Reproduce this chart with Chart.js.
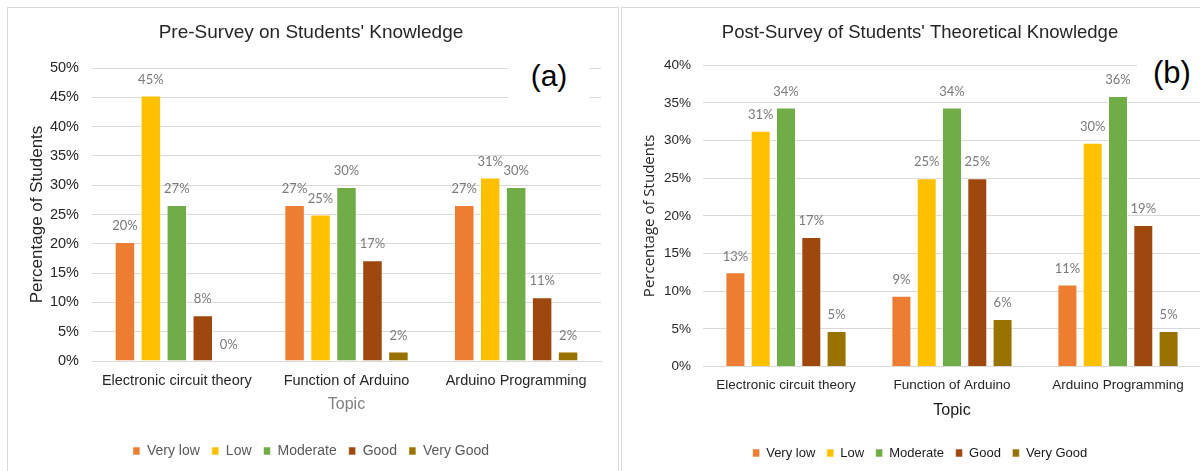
<!DOCTYPE html>
<html>
<head>
<meta charset="utf-8">
<script src="https://cdn.jsdelivr.net/npm/chart.js@4/dist/chart.umd.min.js"></script>
<style>
	html, body { margin: 0; padding: 0; background: #fff; overflow: hidden; width: 1200px; height: 471px; }
	.panel { position: absolute; top: 7px; height: 480px; border: 1px solid #d9d9d9; background: #fff; overflow: hidden; }
	#panelA { left: 7px; width: 610px; }
	#panelB { left: 621px; width: 600px; }
	.panel canvas { position: absolute; left: 0; top: 0; }
	.tag { position: absolute; background: #fff; font-family: "Liberation Sans", Arial, sans-serif; color: #000; text-align: center; }
</style>
</head>
<body>
<div class="panel" id="panelA"><canvas id="chartA" width="610" height="463"></canvas></div>
<div class="panel" id="panelB"><canvas id="chartB" width="590" height="463"></canvas></div>
<div class="tag" style="left:508px; top:54px; width:82px; height:48px; line-height:44px; font-size:30px;">(a)</div>
<div class="tag" style="left:1137px; top:52px; width:70px; height:42px; line-height:42px; font-size:31px;">(b)</div>
<script>
const topics = ["Electronic circuit theory", "Function of Arduino", "Arduino Programming"]
const levels = ["Very low", "Low", "Moderate", "Good", "Very Good"]
const levelColors = ["#ED7D31", "#FFC000", "#70AD47", "#9E480E", "#997300"]

// pre-survey, % of students per level (one value per topic)
const preVeryLow = [20.3, 26.6, 26.6]
const preLow = [45.3, 25.0, 31.3]
const preModerate = [26.6, 29.7, 29.7]
const preGood = [7.8, 17.2, 10.9]
const preVeryGood = [0, 1.6, 1.6]

// post-survey
const postVeryLow = [12.5, 9.4, 10.9]
const postLow = [31.3, 25.0, 29.7]
const postModerate = [34.4, 34.4, 35.9]
const postGood = [17.2, 25.0, 18.8]
const postVeryGood = [4.7, 6.3, 4.7]

const FONT = "'Liberation Sans', Arial, sans-serif"

const valueLabels = {
	id: "valueLabels",
	afterDatasetsDraw(chart) {
		const ctx = chart.ctx
		ctx.save()
		ctx.font = "13px Lato"
		ctx.fillStyle = "#7a7a7a"
		ctx.textAlign = "center"
		ctx.textBaseline = "middle"
		chart.data.datasets.forEach((ds, i) => {
			chart.getDatasetMeta(i).data.forEach((bar, j) => {
				ctx.fillText(Math.round(ds.data[j]) + "%", bar.x, bar.y - 16)
			})
		})
		ctx.restore()
	},
}

function makeChart(canvas, series, s) {
	const datasets = levels.map((name, i) => ({
		label: name,
		data: series[i],
		backgroundColor: levelColors[i],
		borderColor: "rgba(255,255,255,0.55)",
		borderWidth: 1,
		categoryPercentage: s.catPct,
		barPercentage: s.barPct,
	}))
	return new Chart(canvas, {
		type: "bar",
		data: { labels: topics, datasets: datasets },
		plugins: [valueLabels],
		options: {
			responsive: false,
			animation: false,
			devicePixelRatio: 1,
			layout: { padding: s.padding },
			plugins: {
				title: {
					display: true,
					text: s.title,
					color: "#262626",
					font: { family: FONT, size: s.titleSize, weight: "normal" },
					padding: s.titlePad,
				},
				legend: {
					position: "bottom",
					labels: {
						boxWidth: 7,
						boxHeight: 8,
						padding: s.legendPad,
						color: s.legendColor,
						font: { family: FONT, size: s.legendSize },
					},
				},
				tooltip: { enabled: false },
			},
			scales: {
				x: {
					grid: { display: false, drawTicks: false },
					border: { color: "#d9d9d9" },
					ticks: { color: "#262626", padding: s.xTickPad, font: { family: FONT, size: s.tickSize } },
					title: {
						display: true,
						text: "Topic",
						color: s.topicColor,
						font: { family: FONT, size: 16 },
						padding: { top: 0, bottom: s.topicPad },
					},
					afterFit: (scale) => { scale.height = s.xHeight },
				},
				y: {
					min: 0,
					max: s.yMax,
					grid: { color: "#d9d9d9", drawTicks: false },
					border: { display: false },
					ticks: {
						stepSize: 5,
						padding: s.yTickPad,
						color: "#262626",
						font: { family: FONT, size: s.tickSize },
						callback: (v) => v + "%",
					},
					title: {
						display: true,
						text: "Percentage of Students",
						color: "#262626",
						font: { family: s.yTitleFont, size: s.yTitleSize },
						padding: { top: s.yTitlePad, bottom: 0 },
					},
					afterFit: (scale) => { scale.width = s.yWidth },
				},
			},
		},
	})
}

window.onload = () => {
	makeChart(document.getElementById("chartA"),
		[preVeryLow, preLow, preModerate, preGood, preVeryGood], {
			title: "Pre-Survey on Students' Knowledge",
			titleSize: 19,
			titlePad: { top: 13.6, bottom: 23.6 },
			padding: { left: 13, right: 17, top: 0, bottom: 3 },
			yMax: 50,
			yWidth: 71,
			yTickPad: 13,
			yTitleFont: FONT,
			yTitleSize: 17,
			yTitlePad: 5.8,
			tickSize: 14.5,
			xTickPad: 11,
			xHeight: 71,
			topicColor: "#7f7f7f",
			topicPad: 17.4,
			legendPad: 12,
			legendSize: 14,
			legendColor: "#595959",
			catPct: 0.765,
			barPct: 0.79,
		})
	makeChart(document.getElementById("chartB"),
		[postVeryLow, postLow, postModerate, postGood, postVeryGood], {
			title: "Post-Survey of Students' Theoretical Knowledge",
			titleSize: 18.5,
			titlePad: { top: 13.6, bottom: 21.4 },
			padding: { left: 17, right: 11, top: 0, bottom: 1.5 },
			yMax: 40,
			yWidth: 64,
			yTickPad: 12,
			yTitleFont: "'Open Sans', sans-serif",
			yTitleSize: 15,
			yTitlePad: 2,
			tickSize: 13.5,
			xTickPad: 11,
			xHeight: 68.5,
			topicColor: "#1a1a1a",
			topicPad: 14.9,
			legendPad: 11.5,
			legendSize: 13,
			legendColor: "#1a1a1a",
			catPct: 0.762,
			barPct: 0.79,
		})
}
</script>
</body>
</html>
